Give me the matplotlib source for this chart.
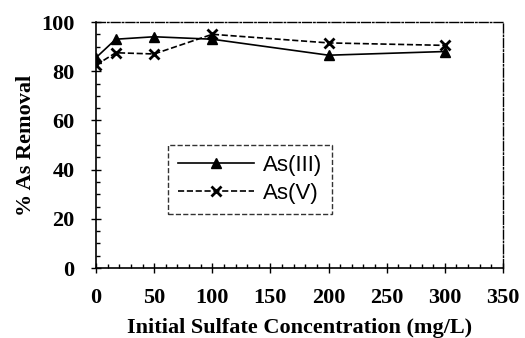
import matplotlib
matplotlib.use("Agg")
import matplotlib.pyplot as plt
from matplotlib.ticker import MultipleLocator

x_as3 = [0, 17, 50, 100, 200, 300]
y_as3 = [85.5, 93, 94, 93, 86.5, 88]
x_as5 = [0, 17, 50, 100, 200, 300]
y_as5 = [82.5, 87.5, 87, 95, 91.5, 90.5]

plt.rcParams['font.family'] = ['Liberation Serif', 'DejaVu Serif']
plt.rcParams['font.weight'] = 'bold'

fig = plt.figure(figsize=(5.25, 3.38), dpi=100)
ax = fig.add_axes([96/525, 1-268/338, (503-96)/525, (268-22)/338])

ax.plot(x_as3, y_as3, '-', color='black', lw=1.2, marker='^', ms=7, label='As(III)')
ax.plot(x_as5, y_as5, '--', color='black', lw=1.2, marker='x', ms=7, mew=2, label='As(V)')

ax.set_xlim(0, 350)
ax.set_ylim(0, 100)
ax.xaxis.set_major_locator(MultipleLocator(50))
ax.xaxis.set_minor_locator(MultipleLocator(10))
ax.yaxis.set_major_locator(MultipleLocator(20))
ax.yaxis.set_minor_locator(MultipleLocator(5))
ax.tick_params(which='major', direction='inout', length=7, width=1, labelsize=16)
ax.tick_params(axis='x', which='major', pad=11)
ax.tick_params(axis='y', which='major', pad=12)
ax.tick_params(which='minor', direction='in', length=3, width=1)
for lab in ax.get_xticklabels() + ax.get_yticklabels():
    lab.set_fontweight('bold')

for s in ['top', 'right']:
    ax.spines[s].set_linestyle('-.')
    ax.spines[s].set_linewidth(1)
for s in ['left', 'bottom']:
    ax.spines[s].set_linewidth(1.2)

ax.set_xlabel('Initial Sulfate Concentration (mg/L)', fontsize=16, fontweight='bold', labelpad=7)
ax.set_ylabel('% As Removal', fontsize=16, fontweight='bold', labelpad=4)

leg = ax.legend(loc='upper left', bbox_to_anchor=(0.177, 0.5), borderaxespad=0, fontsize=16,
                handlelength=3.4, frameon=True, fancybox=False, edgecolor='black',
                borderpad=0.45, labelspacing=0.3, handletextpad=0.4)
leg.get_frame().set_linestyle('--')
leg.get_frame().set_linewidth(1)
for t in leg.get_texts():
    t.set_fontweight('normal')
    t.set_family(['Liberation Sans', 'DejaVu Sans'])

fig.savefig('out.png', dpi=100)
